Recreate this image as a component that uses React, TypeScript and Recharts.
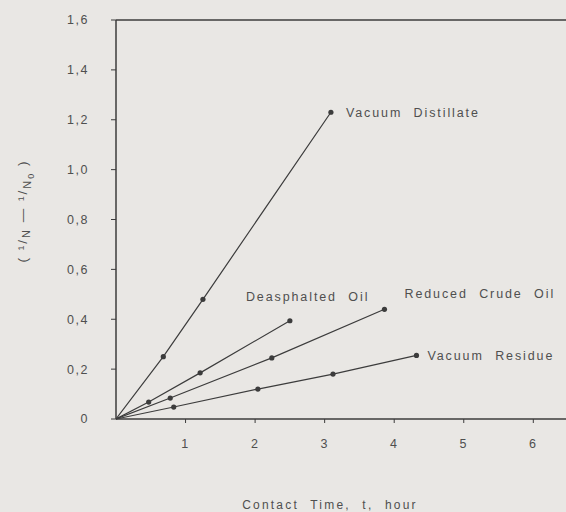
import React from 'react';
import { LineChart, Line, XAxis, YAxis, ReferenceLine } from 'recharts';

// contact time (hour) and (1/N - 1/N0)
const vdTime = [0, 0.68, 1.25, 3.09];
const vdValue = [0, 0.25, 0.48, 1.23];
const daoTime = [0, 0.47, 1.21, 2.5];
const daoValue = [0, 0.068, 0.185, 0.394];
const rcoTime = [0, 0.78, 2.24, 3.86];
const rcoValue = [0, 0.084, 0.245, 0.44];
const vrTime = [0, 0.83, 2.04, 3.12, 4.32];
const vrValue = [0, 0.048, 0.12, 0.18, 0.255];

const xTicks = [1, 2, 3, 4, 5, 6];
const yTicks = [0, 0.2, 0.4, 0.6, 0.8, 1.0, 1.2, 1.4, 1.6];

const seriesNames = ['Vacuum Distillate', 'Deasphalted Oil', 'Reduced Crude Oil', 'Vacuum Residue'];

const toRows = (t: number[], v: number[]) => t.map((x, i) => ({ t: x, v: v[i] }));

const INK = '#3c3c3c';
const TEXT = '#4f4f4f';
const FONT = '"Liberation Sans", Arial, sans-serif';

const yFmt = (v: number) => (v === 0 ? '0' : v.toFixed(1).replace('.', ','));

const Dot = (props: any) => {
  const { cx, cy, index } = props;
  if (index === 0) return <g key={`d-${index}`} />;
  return <circle key={`d-${index}`} cx={cx} cy={cy} r={2.6} fill={INK} />;
};

// label offsets relative to the last point of each series
const labelOffsets: Record<string, { dx: number; dy: number }> = {
  'Vacuum Distillate': { dx: 15, dy: 5 },
  'Deasphalted Oil': { dx: -44, dy: -20 },
  'Reduced Crude Oil': { dx: 20, dy: -11 },
  'Vacuum Residue': { dx: 11, dy: 5 },
};

const makeLabel = (name: string, last: number) => (props: any) => {
  const { x, y, index } = props;
  if (index !== last) return <g key={`l-${index}`} />;
  const o = labelOffsets[name];
  return (
    <text
      key={`l-${index}`}
      x={x + o.dx}
      y={y + o.dy}
      textAnchor="start"
      fill={TEXT}
      fontSize={12.5}
      fontFamily={FONT}
      letterSpacing={1.9}
      wordSpacing={6}
    >
      {name}
    </text>
  );
};

export default function App() {
  const series = [
    { name: seriesNames[0], data: toRows(vdTime, vdValue) },
    { name: seriesNames[1], data: toRows(daoTime, daoValue) },
    { name: seriesNames[2], data: toRows(rcoTime, rcoValue) },
    { name: seriesNames[3], data: toRows(vrTime, vrValue) },
  ];

  const tickStyle = { fill: TEXT, fontSize: 12.5, fontFamily: FONT, letterSpacing: 1.5 };

  return (
    <div style={{ position: 'absolute', left: 0, top: 0, width: 566, height: 512, background: '#e9e7e4', fontFamily: FONT }}>
      <LineChart width={566} height={512} margin={{ top: 20, right: 0, left: 56, bottom: 63 }}>
        <XAxis
          type="number"
          dataKey="t"
          domain={[0, 6.47]}
          ticks={xTicks}
          allowDataOverflow
          height={30}
          tickSize={4}
          tickMargin={16}
          tick={tickStyle}
          stroke={INK}
          axisLine={{ stroke: INK, strokeWidth: 1.5 }}
        />
        <YAxis
          type="number"
          domain={[0, 1.6]}
          ticks={yTicks}
          width={60}
          tickFormatter={yFmt}
          tickSize={5}
          tickMargin={22}
          tick={tickStyle}
          stroke={INK}
          axisLine={{ stroke: INK, strokeWidth: 1.5 }}
        />
        <ReferenceLine y={1.6} stroke={INK} strokeWidth={1.5} />
        {series.map((s) => (
          <Line
            key={s.name}
            data={s.data}
            dataKey="v"
            type="linear"
            stroke={INK}
            strokeWidth={1.2}
            dot={Dot}
            activeDot={false}
            label={makeLabel(s.name, s.data.length - 1)}
            isAnimationActive={false}
          />
        ))}
      </LineChart>
      <div
        style={{
          position: 'absolute',
          left: 25,
          top: 211,
          transform: 'translate(-50%, -50%) rotate(-90deg)',
          whiteSpace: 'nowrap',
          fontSize: 13.5,
          color: TEXT,
          letterSpacing: 2,
        }}
      >
        ( ¹/<sub style={{ fontSize: 11 }}>N</sub> — ¹/<sub style={{ fontSize: 11 }}>N<sub style={{ fontSize: 9 }}>0</sub></sub> )
      </div>
      <div
        style={{
          position: 'absolute',
          left: 330,
          top: 505,
          transform: 'translate(-50%, -50%)',
          whiteSpace: 'nowrap',
          fontSize: 12,
          color: TEXT,
          letterSpacing: 2.2,
          wordSpacing: 6,
        }}
      >
        Contact Time, t, hour
      </div>
    </div>
  );
}
